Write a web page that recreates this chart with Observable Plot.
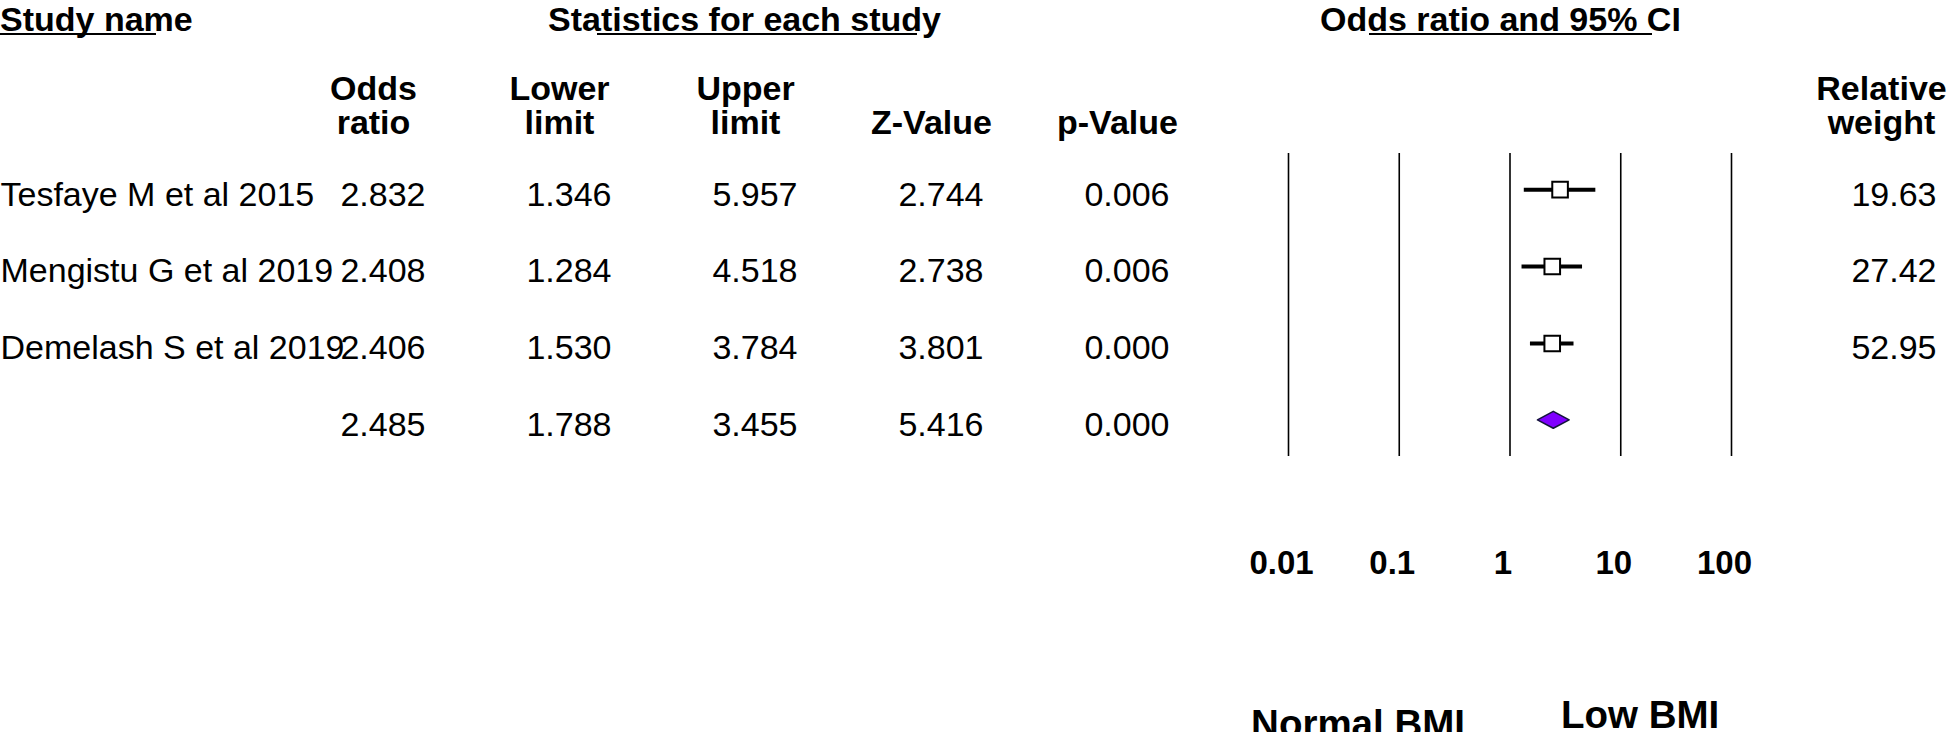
<!DOCTYPE html>
<html>
<head>
<meta charset="utf-8">
<script src="https://cdn.jsdelivr.net/npm/d3@7"></script>
<script src="https://cdn.jsdelivr.net/npm/@observablehq/plot@0.6"></script>
<style>
  html, body { margin: 0; padding: 0; background: #fff; overflow: hidden; }
  #chart { position: relative; width: 1952px; height: 732px; overflow: hidden;
           font-family: "Liberation Sans", Arial, sans-serif; color: #000; }
  #chart svg { position: absolute; left: 0; top: 0; background: transparent !important; }
  .hdr { position: absolute; top: 2px; font-weight: bold; font-size: 34px; line-height: 34px; white-space: nowrap; }
  .ul { position: absolute; top: 33px; height: 2px; background: #000; }
</style>
</head>
<body>
<div id="chart"></div>
<script>
// ---------------- data ----------------
const studies   = ["Tesfaye M et al 2015", "Mengistu G et al 2019", "Demelash S et al 2019"];
const oddsRatio = [2.832, 2.408, 2.406];
const lowerLim  = [1.346, 1.284, 1.530];
const upperLim  = [5.957, 4.518, 3.784];
const zValue    = [2.744, 2.738, 3.801];
const pValue    = [0.006, 0.006, 0.000];
const relWeight = [19.63, 27.42, 52.95];

const summaryOR    = 2.485;
const summaryLower = 1.788;
const summaryUpper = 3.455;
const summaryZ     = 5.416;
const summaryP     = 0.000;

const colKeys    = ["or", "lower", "upper", "z", "p"];
const colHeaders = ["Odds\nratio", "Lower\nlimit", "Upper\nlimit", "Z-Value", "p-Value"];
const weightHeader = "Relative\nweight";

const topHeaders = ["Study name", "Statistics for each study", "Odds ratio and 95% CI"];

const tickValues = [0.01, 0.1, 1, 10, 100];
const tickLabels = ["0.01", "0.1", "1", "10", "100"];
const nullValue  = 1;
const sideLabels = ["Normal BMI", "Low BMI"];

// ---------------- derived tables ----------------
const rows = studies.map((name, i) => ({
  row: i, name, or: oddsRatio[i], lower: lowerLim[i], upper: upperLim[i],
  z: zValue[i], p: pValue[i], weight: relWeight[i]
}));
const summaryRow = { row: studies.length, or: summaryOR, lower: summaryLower, upper: summaryUpper, z: summaryZ, p: summaryP };
const allRows = [...rows, summaryRow];

const cells = [];
for (const r of allRows) for (const k of colKeys) cells.push({ row: r.row, col: k, value: r[k].toFixed(3) });

const headerCells = colKeys.map((k, i) => ({ col: k, label: colHeaders[i] }));
const ticks = tickValues.map((v, i) => ({ v, label: tickLabels[i] }));

const diamondHalf = 0.11; // half height of the summary diamond, in row units (style)
const diamond = [
  { x: summaryLower, y1: summaryRow.row, y2: summaryRow.row },
  { x: summaryOR,    y1: summaryRow.row - diamondHalf, y2: summaryRow.row + diamondHalf },
  { x: summaryUpper, y1: summaryRow.row, y2: summaryRow.row }
];

// ---------------- layout ----------------
const W = 1952, H = 732;
const FONT = "Liberation Sans, Arial, sans-serif";
const yScale = { type: "linear", domain: [-0.47, allRows.length - 1 + 0.47], range: [153, 456], axis: null };
const frame = { marginLeft: 0, marginTop: 153, marginBottom: H - 456 };

const chart = document.getElementById("chart");

// top headers (HTML) with CMA-style partial underlines
const hdrPos = [0, 548, 1320];
const ulPos = [[0, 156], [597, 917], [1369, 1652]];
topHeaders.forEach((t, i) => {
  const d = document.createElement("div");
  d.className = "hdr"; d.style.left = hdrPos[i] + "px"; d.textContent = t;
  chart.appendChild(d);
  const u = document.createElement("div");
  u.className = "ul"; u.style.left = ulPos[i][0] + "px"; u.style.width = (ulPos[i][1] - ulPos[i][0]) + "px";
  chart.appendChild(u);
});

// ---------------- statistics table ----------------
const table = Plot.plot({
  width: W, height: H, ...frame, marginRight: 0,
  style: { fontFamily: FONT, fontSize: "34px", background: "transparent", color: "#000" },
  x: { type: "point", domain: colKeys, range: [425, 1169], padding: 0, axis: null },
  y: yScale,
  marks: [
    Plot.text(cells, { x: "col", y: "row", text: "value", textAnchor: "end", fontSize: 34, dy: 5, fill: "#000" }),
    Plot.text(rows, { y: "row", text: "name", frameAnchor: "left", textAnchor: "start", fontSize: 34, dy: 5, fill: "#000" }),
    Plot.text(headerCells, { x: "col", text: "label", frameAnchor: "top", textAnchor: "middle", lineAnchor: "bottom",
      lineHeight: 1, dx: -52, dy: -20, fontSize: 34, fontWeight: "bold", fill: "#000" })
  ]
});
chart.appendChild(table);

// ---------------- forest plot ----------------
const forest = Plot.plot({
  width: W, height: H, ...frame, marginRight: 16,
  style: { fontFamily: FONT, fontSize: "34px", background: "transparent", color: "#000" },
  x: { type: "log", domain: [0.01, 100], range: [1288, 1731], axis: null },
  y: yScale,
  marks: [
    Plot.ruleX(tickValues, { stroke: "#000", strokeWidth: 1.6 }),
    Plot.ruleY(rows, { y: "row", x1: "lower", x2: "upper", stroke: "#000", strokeWidth: 4 }),
    Plot.dot(rows, { x: "or", y: "row", symbol: "square", r: 8.8, fill: "#fff", stroke: "#000", strokeWidth: 2 }),
    Plot.area(diamond, { x1: "x", y1: "y1", y2: "y2", fill: "#8000ff", stroke: "#14143c", strokeWidth: 1.6 }),
    Plot.text(rows, { y: "row", text: d => d.weight.toFixed(2), frameAnchor: "right", textAnchor: "end",
      fontSize: 34, dy: 5, fill: "#000" }),
    Plot.text([weightHeader], { text: d => d, frameAnchor: "top-right", textAnchor: "middle", lineAnchor: "bottom",
      lineHeight: 1, dx: -55, dy: -20, fontSize: 34, fontWeight: "bold", fill: "#000" }),
    // tick labels of the log odds-ratio scale
    Plot.text(ticks, { x: "v", text: "label", frameAnchor: "bottom", textAnchor: "middle", lineAnchor: "bottom",
      dx: -7, dy: 117, fontSize: 33, fontWeight: "bold", fill: "#000" }),
    Plot.text([sideLabels[0]], { x: () => nullValue, text: d => d, frameAnchor: "bottom", textAnchor: "end",
      lineAnchor: "bottom", dx: -45, dy: 280, fontSize: 38.5, fontWeight: "bold", fill: "#000" }),
    Plot.text([sideLabels[1]], { x: () => nullValue, text: d => d, frameAnchor: "bottom", textAnchor: "start",
      lineAnchor: "bottom", dx: 51, dy: 271, fontSize: 38.5, fontWeight: "bold", fill: "#000" })
  ]
});
chart.appendChild(forest);
</script>
</body>
</html>
